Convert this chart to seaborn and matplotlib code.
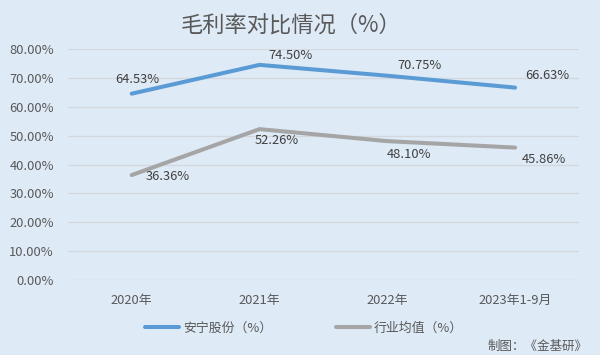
import numpy as np
import pandas as pd
import matplotlib
matplotlib.use("Agg")
import matplotlib.pyplot as plt
import seaborn as sns
from matplotlib.ticker import FuncFormatter

# ==============================
# Data
# ==============================
periods = ["2020年", "2021年", "2022年", "2023年1-9月"]
series_names = ["安宁股份（%）", "行业均值（%）"]
anning = [64.53, 74.50, 70.75, 66.63]
industry = [36.36, 52.26, 48.10, 45.86]

colors = ["#5B9BD5", "#A5A5A5"]
bg = "#DEEAF6"

# label offsets (pixels) relative to each point
anning_offsets = [(6, 14), (31, 9), (32, 10), (32, 12)]
industry_offsets = [(36, -1), (17, -11), (22, -13), (29, -12)]

df = pd.DataFrame({
    "period": periods * 2,
    "value": np.array(anning + industry) / 100,
    "series": [series_names[0]] * 4 + [series_names[1]] * 4,
})

sns.set_theme(style="white")
plt.rcParams["font.family"] = ["Noto Sans CJK SC", "DejaVu Sans"]

fig = plt.figure(figsize=(6, 3.55), dpi=100, facecolor=bg)
ax = fig.add_axes([0.113, 0.211, 0.852, 0.651], facecolor=bg)

sns.lineplot(data=df, x="period", y="value", hue="series", palette=colors,
             linewidth=2.9, sort=False, ax=ax, legend=True)

ax.set_xlim(-0.5, 3.5)
ax.set_ylim(0, 0.8)
ax.set_yticks(np.arange(0, 0.81, 0.1))
ax.yaxis.set_major_formatter(FuncFormatter(lambda v, _: f"{v * 100:.2f}%"))
ax.grid(axis="y", color="#D3D8DE", linewidth=0.9)
ax.grid(axis="x", visible=False)
for s in ax.spines.values():
    s.set_visible(False)
ax.tick_params(axis="both", length=0, labelsize=9.3, colors="#595959")
ax.tick_params(axis="x", pad=10)
ax.tick_params(axis="y", pad=10)
ax.set_xlabel("")
ax.set_ylabel("")

for vals, offs in [(anning, anning_offsets), (industry, industry_offsets)]:
    for i, (v, o) in enumerate(zip(vals, offs)):
        ax.annotate(f"{v:.2f}%", (i, v / 100), xytext=o, textcoords="offset pixels",
                    ha="center", va="center", fontsize=9.3, color="#404040")

fig.text(0.485, 0.93, "毛利率对比情况（%）", ha="center", va="center",
         fontsize=16, color="#595959")

leg = ax.legend(loc="center", bbox_to_anchor=(0.507, 0.075), bbox_transform=fig.transFigure,
                ncol=2, frameon=False, fontsize=9.3, handlelength=2.6, columnspacing=5.0,
                handletextpad=0.3)
for t in leg.get_texts():
    t.set_color("#595959")

fig.text(0.98, 0.025, "制图：《金基研》", ha="right", va="center",
         fontsize=9, color="#595959")

fig.savefig("out.png", dpi=100, facecolor=bg)
